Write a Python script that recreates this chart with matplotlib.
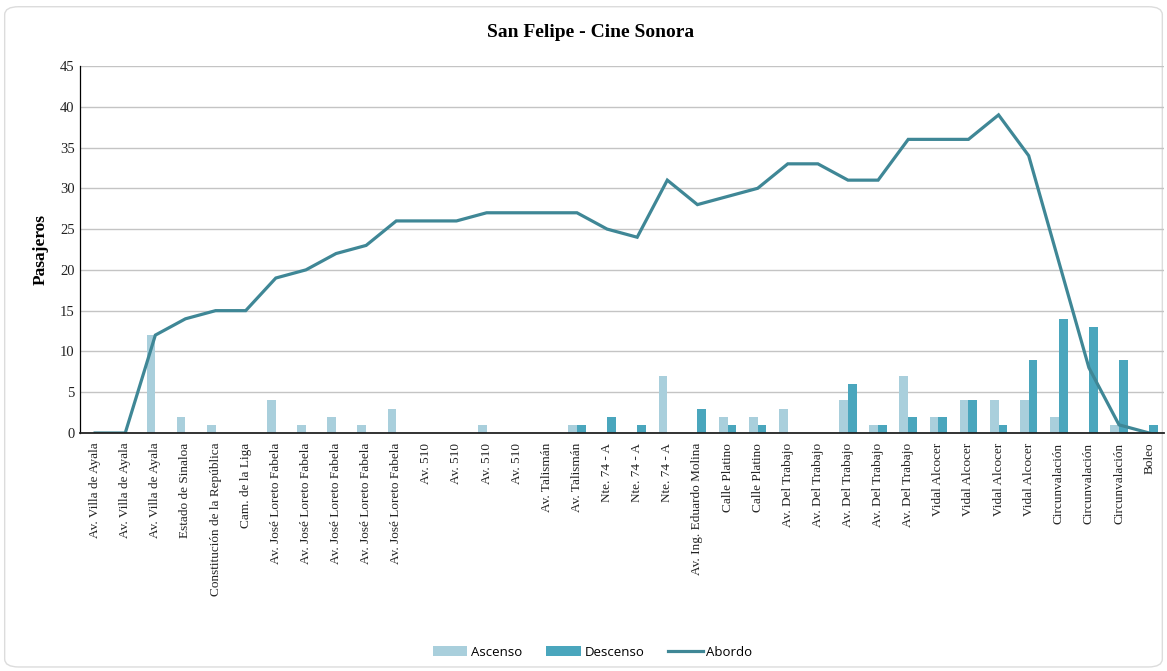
import matplotlib
matplotlib.use("Agg")
import matplotlib.pyplot as plt
import numpy as np
from matplotlib.patches import FancyBboxPatch, Patch
from matplotlib.lines import Line2D

categories = [
    "Av. Villa de Ayala", "Av. Villa de Ayala", "Av. Villa de Ayala",
    "Estado de Sinaloa", "Constitución de la República", "Cam. de la Liga",
    "Av. José Loreto Fabela", "Av. José Loreto Fabela", "Av. José Loreto Fabela",
    "Av. José Loreto Fabela", "Av. José Loreto Fabela",
    "Av. 510", "Av. 510", "Av. 510", "Av. 510",
    "Av. Talismán", "Av. Talismán",
    "Nte. 74 - A", "Nte. 74 - A", "Nte. 74 - A",
    "Av. Ing. Eduardo Molina", "Calle Platino", "Calle Platino",
    "Av. Del Trabajo", "Av. Del Trabajo", "Av. Del Trabajo", "Av. Del Trabajo", "Av. Del Trabajo",
    "Vidal Alcocer", "Vidal Alcocer", "Vidal Alcocer", "Vidal Alcocer",
    "Circunvalación", "Circunvalación", "Circunvalación", "Boleo",
]
ascenso = [0, 0, 12, 2, 1, 0, 4, 1, 2, 1, 3, 0, 0, 1, 0, 0, 1, 0, 0, 7,
           0, 2, 2, 3, 0, 4, 1, 7, 2, 4, 4, 4, 2, 0, 1, 0]
descenso = [0, 0, 0, 0, 0, 0, 0, 0, 0, 0, 0, 0, 0, 0, 0, 0, 1, 2, 1, 0,
            3, 1, 1, 0, 0, 6, 1, 2, 2, 4, 1, 9, 14, 13, 9, 1]
abordo = [0, 0, 12, 14, 15, 15, 19, 20, 22, 23, 26, 26, 26, 27, 27, 27, 27, 25, 24, 31,
          28, 29, 30, 33, 33, 31, 31, 36, 36, 36, 39, 34, 21, 8, 1, 0]

c_asc = "#a9cfdc"
c_desc = "#4aa6bd"
c_line = "#3f8796"

fig = plt.figure(figsize=(11.67, 6.71), dpi=100)
fig.patch.set_facecolor("white")
border = FancyBboxPatch((0.004, 0.006), 0.992, 0.984,
                        boxstyle="round,pad=0,rounding_size=0.012",
                        transform=fig.transFigure, facecolor="white",
                        edgecolor="#dcdcdc", linewidth=1.0, zorder=-10)
fig.patches.append(border)

ax = fig.add_axes([0.0686, 0.3547, 0.929, 0.547])
ax.set_facecolor("none")
x = np.arange(len(categories))
w = 0.29
ax.bar(x - w / 2, ascenso, width=w, color=c_asc, zorder=2, label="Ascenso")
ax.bar(x + w / 2, descenso, width=w, color=c_desc, zorder=2, label="Descenso")
ax.plot(x, abordo, color=c_line, linewidth=2.3, zorder=3, label="Abordo",
        solid_joinstyle="miter")

ax.set_xlim(-0.5, len(categories) - 0.5)
ax.set_ylim(0, 45)
ax.set_yticks(range(0, 46, 5))
ax.yaxis.grid(True, color="#c4c4c4", linewidth=1.0, zorder=0)
ax.set_axisbelow(True)
for s in ["top", "right"]:
    ax.spines[s].set_visible(False)
ax.spines["left"].set_color("black")
ax.spines["left"].set_linewidth(0.9)
ax.spines["bottom"].set_color("#222222")
ax.spines["bottom"].set_linewidth(1.3)
ax.spines["bottom"].set_zorder(4)

ax.set_xticks(x)
ax.set_xticklabels(categories, rotation=90, fontfamily="Liberation Serif",
                   fontsize=9.5, color="#222222")
ax.tick_params(axis="x", length=0, pad=7)
ax.tick_params(axis="y", length=0, pad=4, labelsize=10.5, labelcolor="#222222")
for t in ax.get_yticklabels():
    t.set_fontfamily("Liberation Serif")

ax.set_ylabel("Pasajeros", fontfamily="Liberation Serif", fontweight="bold",
              fontsize=12.5, labelpad=8)
fig.text(0.506, 0.951, "San Felipe - Cine Sonora", ha="center", va="center",
         fontfamily="Liberation Serif", fontweight="bold", fontsize=14)

handles = [Patch(facecolor=c_asc, edgecolor="none"),
           Patch(facecolor=c_desc, edgecolor="none"),
           Line2D([0], [0], color=c_line, linewidth=2.3)]
fig.legend(handles, ["Ascenso", "Descenso", "Abordo"], loc="center",
           bbox_to_anchor=(0.508, 0.028), ncol=3, frameon=False,
           prop={"family": "Open Sans", "size": 9.5},
           handlelength=2.6, handleheight=0.7, columnspacing=1.8, handletextpad=0.3)

fig.savefig("out.png", dpi=100, facecolor="white")
